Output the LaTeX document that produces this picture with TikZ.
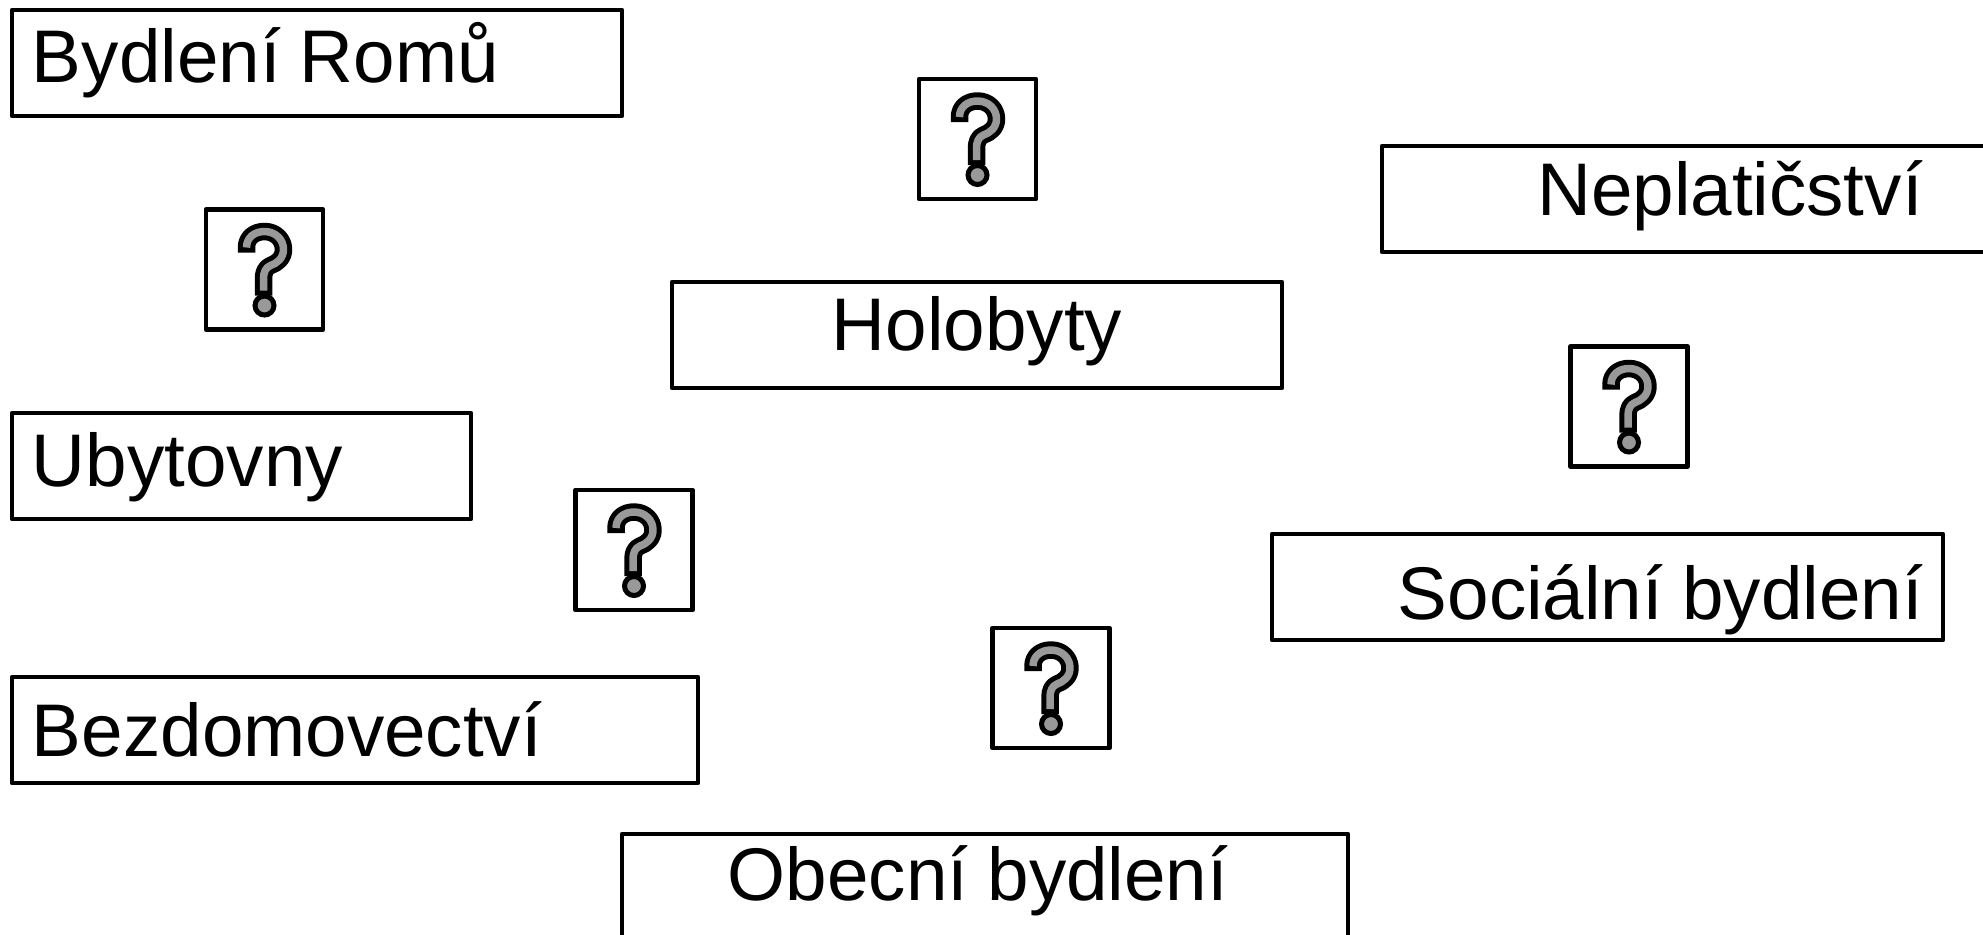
\documentclass[tikz,border=0pt]{standalone}
\usepackage{xcolor}
\usepackage{fontspec}
\setmainfont{Liberation Sans}
\definecolor{markfill}{HTML}{999999}
\newcommand{\tightsp}{\setlength{\spaceskip}{9.6pt}}
\newcommand{\qcurve}{(-18,-22) .. controls (-18,-32) and (-10,-38) .. (0,-38)
      .. controls (11,-38) and (19,-30) .. (19,-20)
      .. controls (19,-11) and (12,-6) .. (6,-4)
      .. controls (1,-2) and (-1,3) .. (-1,9)}
\tikzset{
  lab/.style={draw=black, line width=2.4pt, line join=round, rectangle, anchor=north west, outer sep=0pt,
    inner xsep=10pt, inner ysep=0pt, text=black, font=\fontsize{37.3}{44}\selectfont},
  rise/.style={text height=#1, text depth={53pt-#1}},
  qbox/.style={draw=black, line width=2.4pt, line join=round, rectangle, fill=white, outer sep=0pt, inner sep=0pt,
    minimum width=58.5pt, minimum height=60pt},
  qmark/.pic={
    \path[draw=black, line width=8.75pt, line join=round]
      (-18,-17) -- \qcurve -- (-1,26);
    \path[draw=markfill, line width=3.75pt, line join=round]
      \qcurve -- (-1,21);
    \path[draw=black, fill=markfill, line width=2.5pt] (0,36) circle[radius=4.75pt];
  },
}
\begin{document}
\begin{tikzpicture}[x=0.5pt, y=-0.5pt]
  \useasboundingbox (0,0) rectangle (1983,934);

  \node[lab, rise=36pt, text width=285pt, align=left] (romu) at (12,10) {\tightsp Bydlení Romů};
  \node[lab, rise=34.2pt, text width=285pt, align=center] (holobyty) at (672,282) {Holobyty};
  \node[lab, rise=34.8pt, text width=328pt, align=center] (neplat) at (1382,146) {Neplatičství};
  \node[lab, rise=36.6pt, text width=209.5pt, align=left] (ubyt) at (12,413) {Ubytovny};
  \node[lab, rise=39.8pt, text width=323pt, align=left] (bezdom) at (12,677) {Bezdomovectví};
  \node[lab, rise=42.8pt, text width=315.5pt, align=right] (social) at (1272,534) {\tightsp Sociální bydlení};
  \node[lab, rise=33pt, text width=343pt, align=center] (obecni) at (622,834) {\tightsp Obecní bydlení\hspace*{7pt}};

  \node[qbox] (qtop) at (977.5,139) {};
  \node[qbox] (qleft) at (264.5,269.5) {};
  \node[qbox] (qright) at (1629,406.5) {};
  \node[qbox] (qmid) at (634,550) {};
  \node[qbox] (qlow) at (1051,688) {};
  \foreach \q in {qtop,qleft,qright,qmid,qlow}
    \pic at (\q) {qmark};
\end{tikzpicture}
\end{document}
